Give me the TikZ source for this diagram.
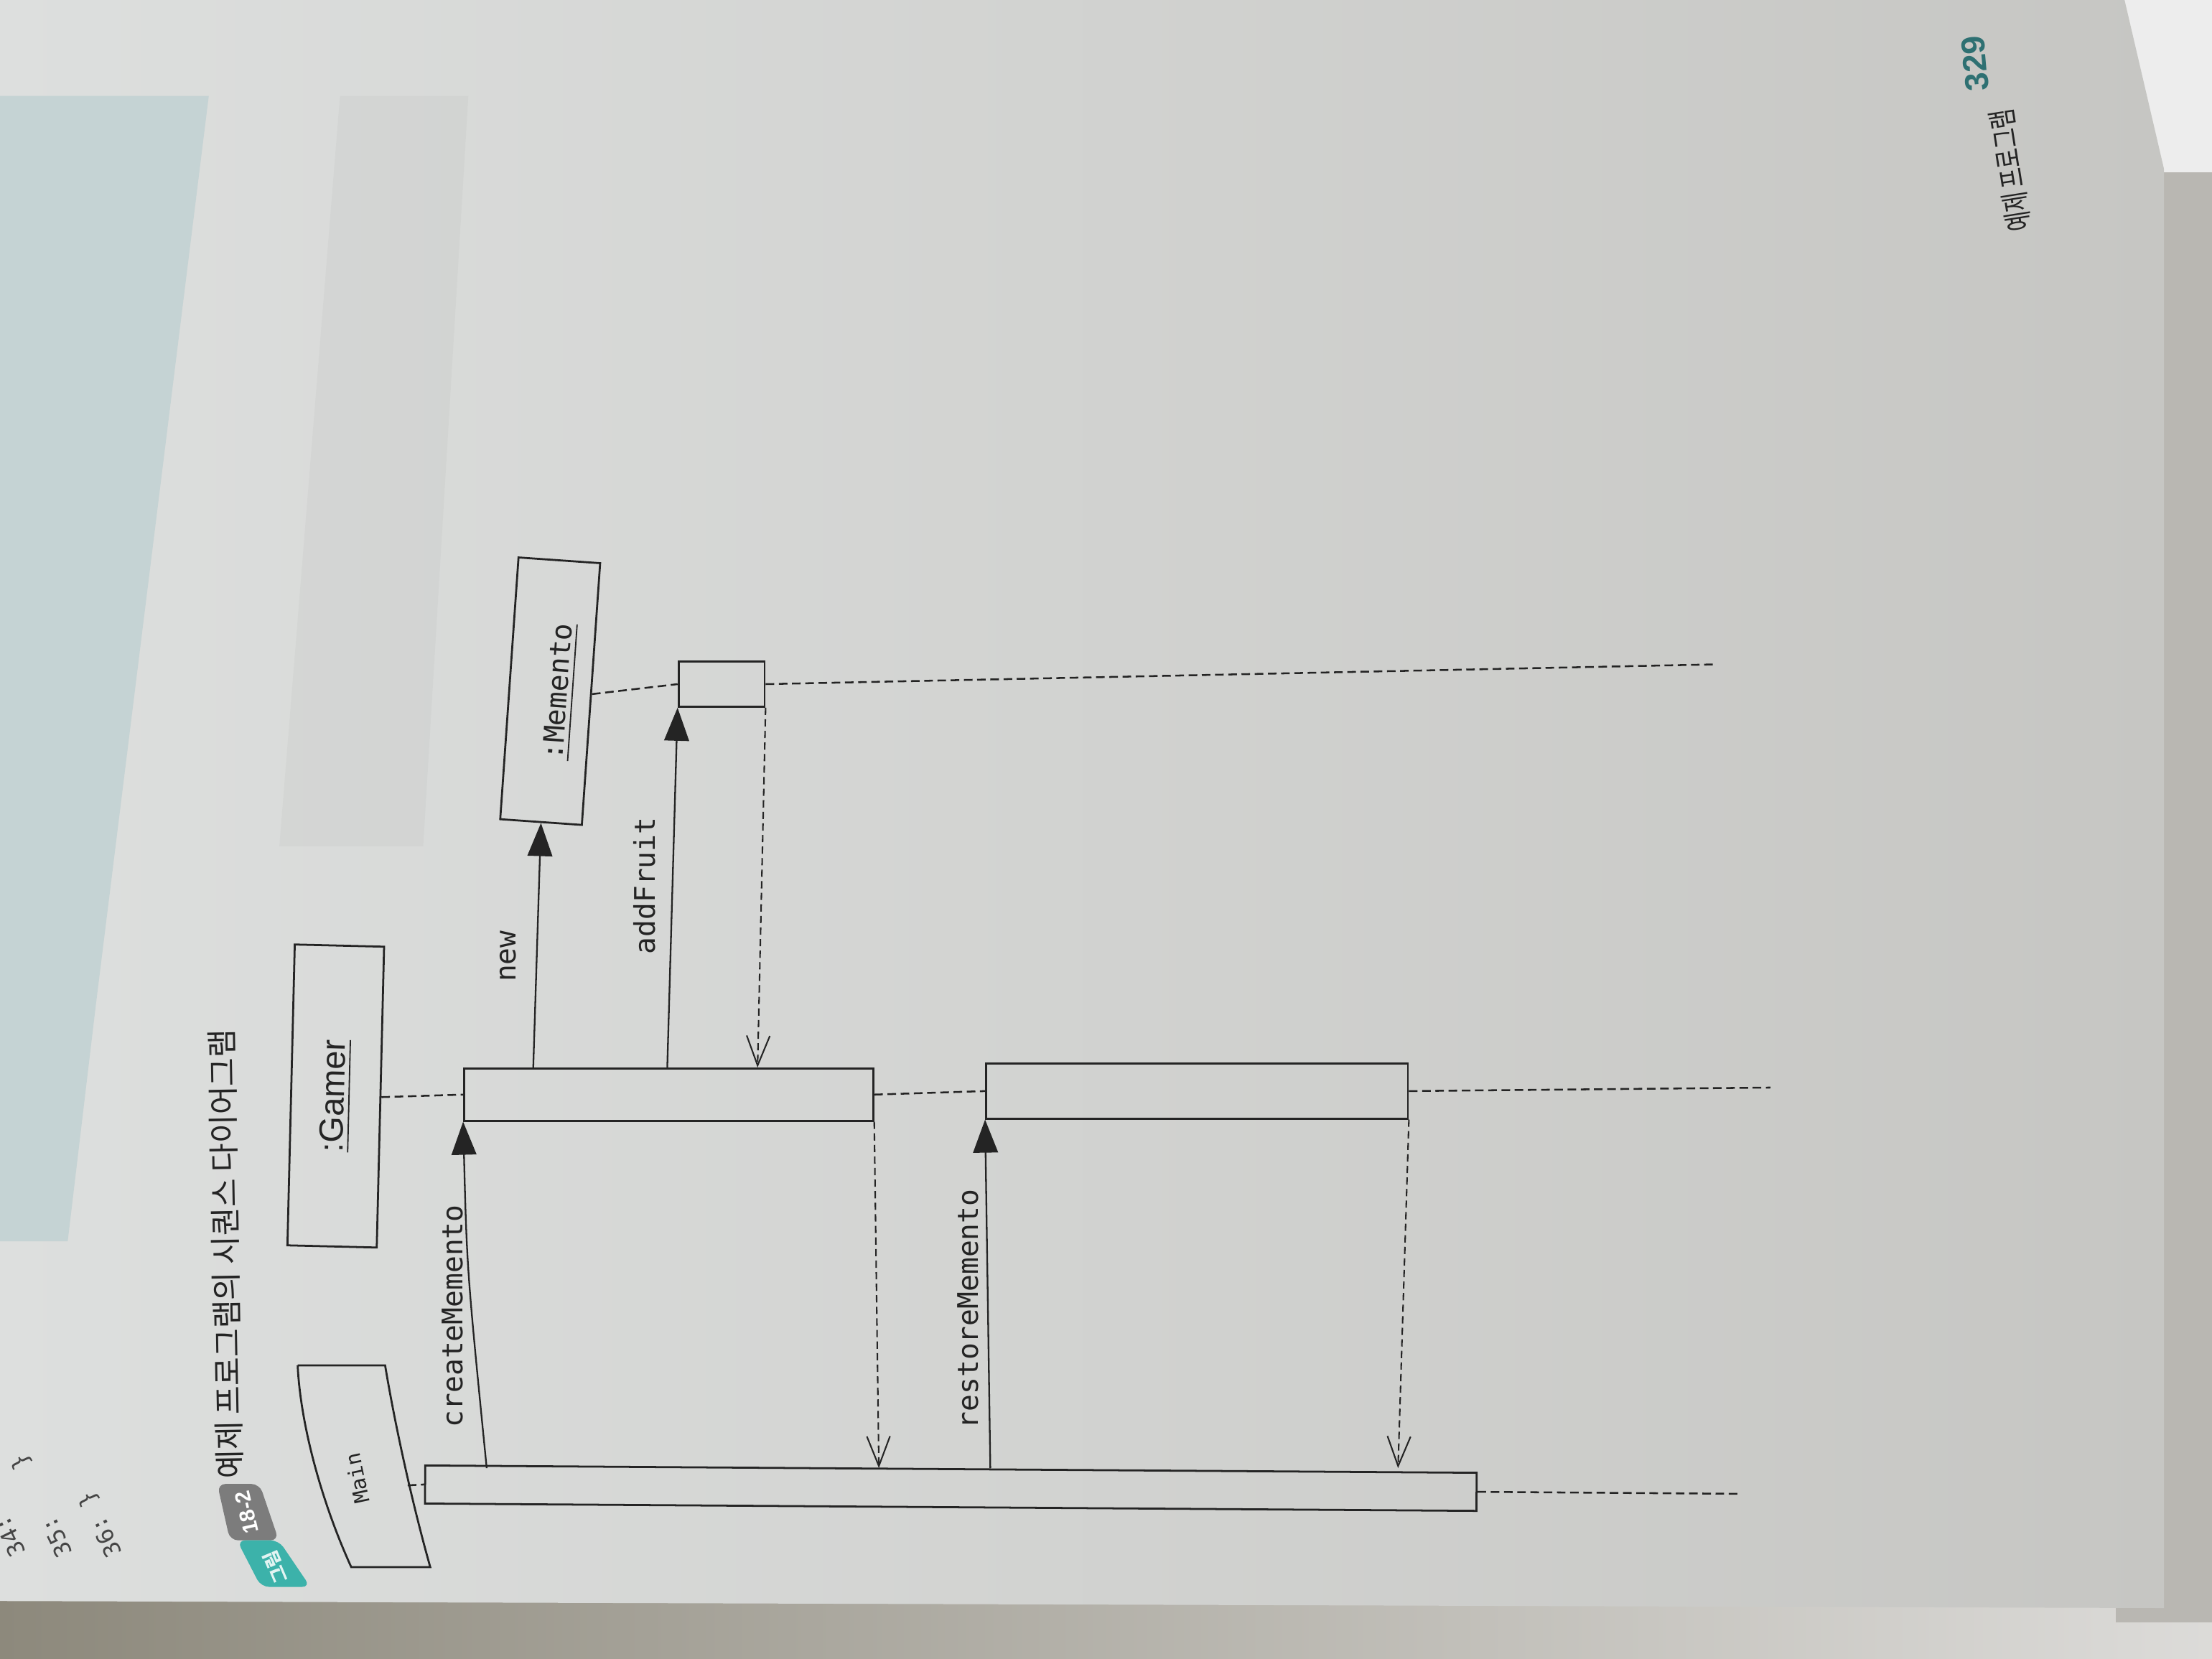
\documentclass[tikz,border=0pt]{standalone}
\usepackage{fontspec}
\setmainfont{Liberation Sans}
\newfontfamily\codefont{DejaVu Sans Mono}
\newfontfamily\hangul{Noto Sans CJK KR}
\usetikzlibrary{arrows.meta, calc}

\definecolor{paperlt}{HTML}{DDDFDE}
\definecolor{paperdk}{HTML}{C6C6C3}
\definecolor{listblue}{HTML}{C5D3D4}
\definecolor{ink}{HTML}{242424}
\definecolor{badgegray}{HTML}{7C7C7C}
\definecolor{badgeteal}{HTML}{3CB2AA}
\definecolor{pageteal}{HTML}{2E7072}
\definecolor{tabletop}{HTML}{8D897C}
\definecolor{beyond}{HTML}{B9B7B2}

\begin{document}
\begin{tikzpicture}[x=0.015cm, y=-0.015cm,
  obj/.style={draw=ink, line width=0.6pt, inner sep=0pt},
  actbar/.style={draw=ink, line width=0.6pt, inner sep=0pt},
  lifeline/.style={ink, line width=0.55pt, dash pattern=on 2.6pt off 1.4pt},
  call/.style={ink, line width=0.5pt, -{Triangle[length=10pt, width=7.5pt]}},
  reply/.style={ink, line width=0.45pt, dash pattern=on 2.2pt off 1.3pt,
    -{Straight Barb[length=9pt, width=7pt]}},
  msg/.style={font=\codefont\fontsize{8.6}{10}\selectfont, text=ink, rotate=90},
  codeline/.style={font=\codefont\fontsize{7}{8}\selectfont, text=ink!85,
    rotate=116, anchor=west, inner sep=0pt}]

\useasboundingbox (0,0) rectangle (1568,1176);

% --- Page and what lies round it ---
\shade[left color=tabletop, right color=beyond!50!white]
  (0,1120) rectangle (1568,1176);
\fill[beyond] (1500,100) rectangle (1568,1150);
\fill[white!93!black] (1490,0) rectangle (1568,122);
\shade[left color=paperlt, right color=paperdk]
  (0,0) -- (1506,0) -- (1534,120) -- (1534,1140) -- (0,1135) -- cycle;

% listing box and grey band left of the figure
\fill[listblue] (0,68) -- (148,68) -- (68,712) -- (48,880) -- (0,880) -- cycle;
\fill[black, opacity=0.025] (241,68) -- (332,68) -- (300,600) -- (198,600) -- cycle;

% --- End of the code listing ---
\node[codeline] (ln34) at (13.5,1103) {34:};
\node[codeline] (ln35) at (47.5,1103) {35:~~~~\}};
\node[codeline] (ln36) at (82.5,1103) {36:~\}};

% --- Caption ---
\fill[badgegray, rounded corners=2.5pt] (154,1052) -- (184,1052) -- (197.6,1092) -- (163,1092) -- cycle;
\fill[badgeteal, rounded corners=2.5pt] (168,1092) -- (197.6,1092) -- (220,1125) -- (185,1125) -- cycle;
\node[rotate=103, inner sep=0pt, text=white,
      font=\bfseries\fontsize{6.5}{7}\selectfont] (fignum) at (175,1072) {18-2};
\node[rotate=113, inner sep=0pt, text=white!85!badgeteal,
      font=\hangul\bfseries\fontsize{5.5}{6}\selectfont] (figtag) at (195,1111) {그림};
\node[font=\hangul\fontsize{9.4}{10}\selectfont, text=ink, rotate=91]
  (title) at (160,889) {예제 프로그램의 시퀀스 다이어그램};

% --- Objects ---
\draw[ink, line width=0.6pt] (211,968) -- (273,968)
  .. controls (280,1010) and (292,1065) .. (305,1111) -- (249,1111)
  .. controls (228,1065) and (213,1010) .. (211,968);
\node[font=\codefont\fontsize{6.3}{7}\selectfont, text=ink, rotate=102]
  (main) at (253,1048) {Main};
\coordinate (mainedge) at (289,1053);

\node[obj, rotate=88.6, minimum width=3.2cm, minimum height=0.95cm,
      font=\fontsize{10.2}{12}\selectfont, text=ink] (gamer) at (238,777) {\underline{:Gamer}};
\node[obj, rotate=86, minimum width=2.79cm, minimum height=0.87cm,
      font=\codefont\fontsize{8.6}{10}\selectfont, text=ink] (memento) at (390,490)
  {\raisebox{-5.2pt}[0pt][0pt]{\underline{:Memento}}};

% --- Activation bars ---
\node[actbar, rotate=-0.4, minimum width=11.18cm, minimum height=0.405cm] (mainbar) at (674,1055) {};
\node[actbar, minimum width=4.35cm, minimum height=0.555cm] (gamerbar1) at (474,776) {};
\node[actbar, minimum width=4.485cm, minimum height=0.585cm] (gamerbar2) at (848.5,773.5) {};
\node[actbar, minimum width=0.915cm, minimum height=0.48cm] (mementobar) at (511.5,485) {};

% --- Lifelines ---
\coordinate (mainend) at (1232,1059);
\coordinate (gamerend) at (1255,771);
\coordinate (mementoend) at (1216,471);
\draw[lifeline] (mainedge) -- (mainbar.west);
\draw[lifeline] (mainbar.east) -- (mainend);
\draw[lifeline] (gamer.south) -- (gamerbar1.west);
\draw[lifeline] (gamerbar1.east) -- (gamerbar2.west);
\draw[lifeline] (gamerbar2.east) -- (gamerend);
\draw[lifeline] (memento.south) -- (mementobar.west);
\draw[lifeline] (mementobar.east) -- (mementoend);

% --- Messages ---
\draw[call] (mainbar.north -| 345,0) .. controls (331,900) .. (gamerbar1.south west);
\node[msg] (lblcreate) at (321,933) {createMemento};

\draw[call] (gamerbar1.north -| 378,0) -- (memento.west);
\node[msg] (lblnew) at (360,678) {new};

\draw[call] (gamerbar1.north -| 473,0) -- (mementobar.south west);
\node[msg] (lbladd) at (457,628) {addFruit};

\draw[reply] (mementobar.south east) -- (gamerbar1.north -| 537,0);
\draw[reply] (gamerbar1.south east) -- (mainbar.north -| 623,0);

\draw[call] (mainbar.north -| 702,0) -- (gamerbar2.south west);
\node[msg] (lblrestore) at (686,928) {restoreMemento};

\draw[reply] (gamerbar2.south east) -- (mainbar.north -| 991,0);

% --- Running foot ---
\node[font=\bfseries\fontsize{10}{11}\selectfont, text=pageteal, rotate=95]
  (pageno) at (1400,45) {329};
\node[font=\hangul\fontsize{9}{10}\selectfont, text=ink, rotate=99, xscale=.72]
  (runfoot) at (1425,121) {예제 프로그램};

\end{tikzpicture}
\end{document}
